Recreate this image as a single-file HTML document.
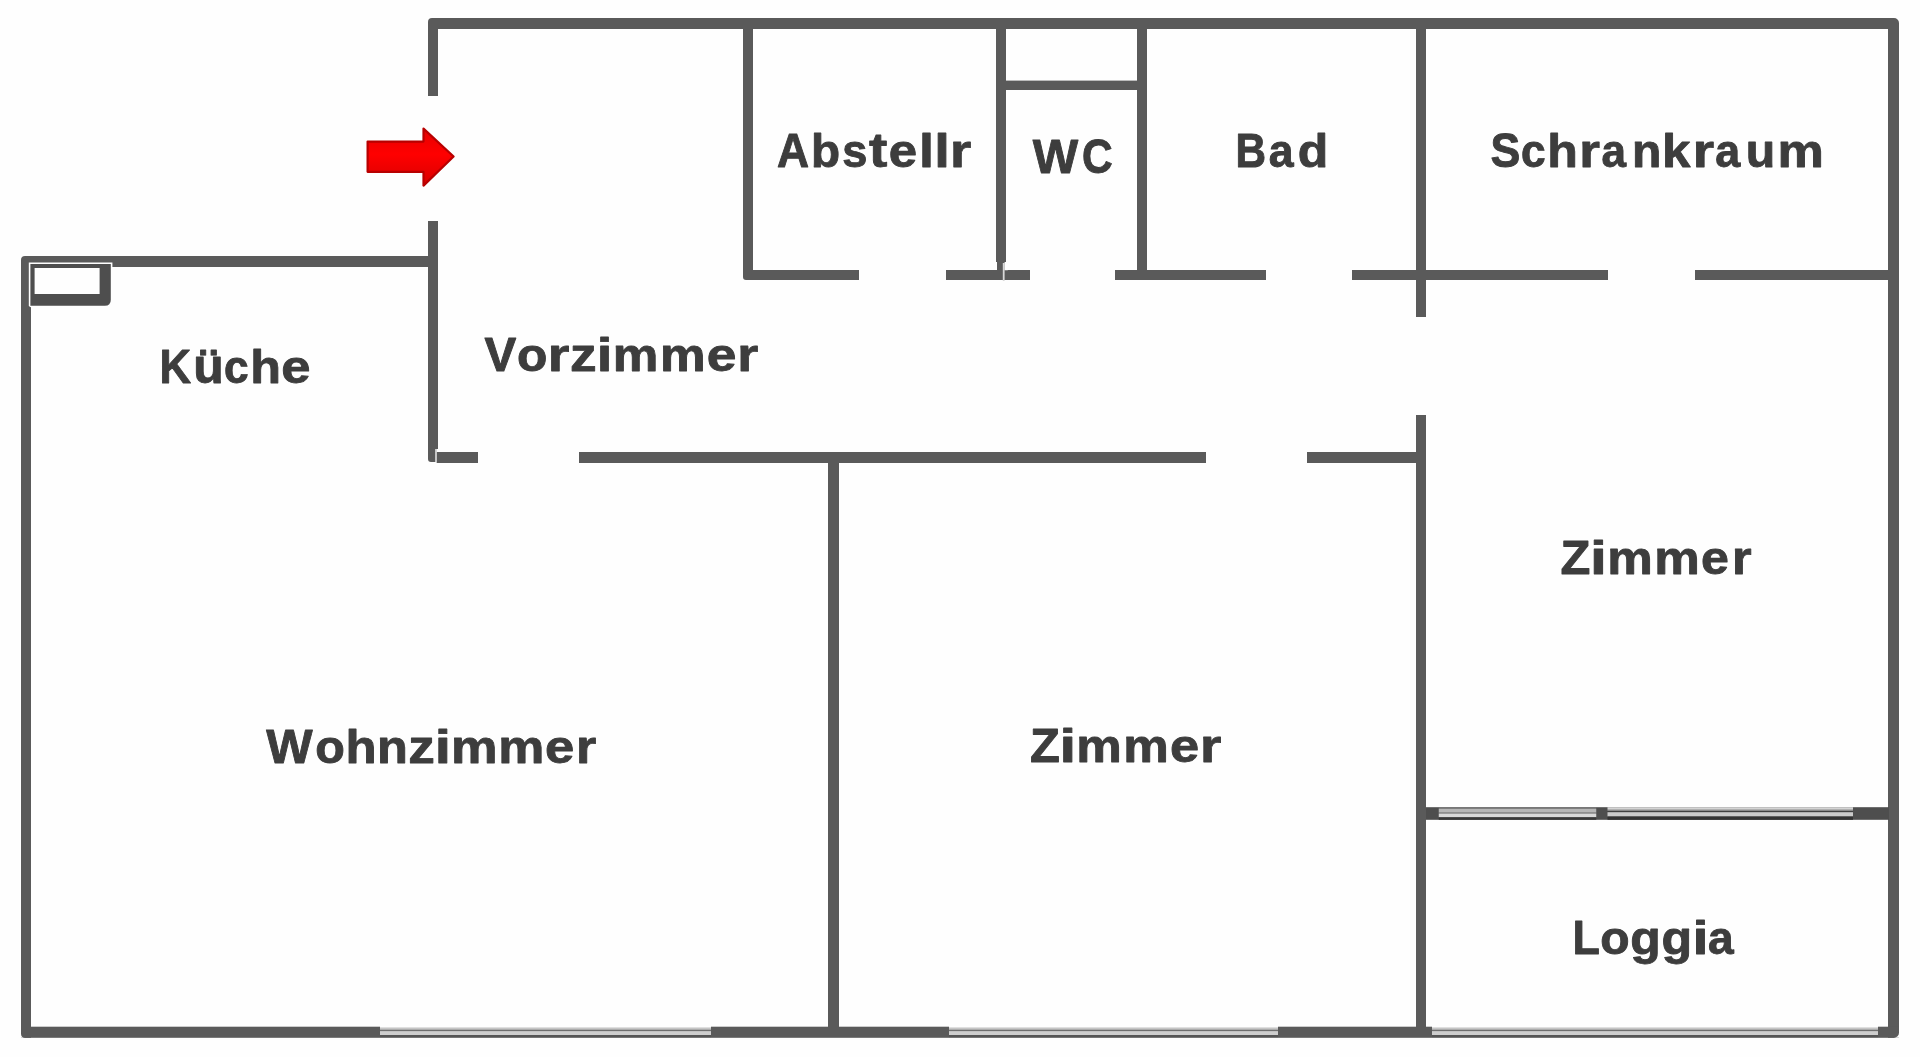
<!DOCTYPE html>
<html><head><meta charset="utf-8"><style>
html,body{margin:0;padding:0;background:#fefefe;width:1920px;height:1057px;overflow:hidden}
svg{display:block;will-change:transform}
.t text{font-family:"Liberation Sans",sans-serif;font-weight:bold;font-size:47.5px}
.t path,.t text{fill:#3d3d3d;stroke:#3d3d3d;stroke-width:0.9px;vector-effect:non-scaling-stroke;stroke-linejoin:round}
</style></head><body>
<svg width="1920" height="1057" viewBox="0 0 1920 1057">
<rect x="0" y="0" width="1920" height="1057" fill="#fefefe"/>
<g fill="#5a5a5a">
<rect x="428" y="18" width="1471" height="11"/>
<rect x="1888" y="18" width="11" height="1019.8"/>
<rect x="21" y="1026.7" width="1878" height="11.1"/>
<rect x="21" y="256" width="10" height="781.8"/>
<rect x="21" y="256" width="417" height="11"/>
<rect x="428" y="18" width="10" height="78"/>
<rect x="428" y="221" width="10" height="241"/>
<rect x="436" y="452" width="42" height="11"/>
<rect x="579" y="452" width="627" height="11"/>
<rect x="1307" y="452" width="119" height="11"/>
<rect x="828" y="452" width="11" height="585"/>
<rect x="1416" y="415" width="10" height="622"/>
<rect x="1416" y="18" width="10" height="299"/>
<rect x="743" y="18" width="10" height="262"/>
<rect x="743" y="270" width="116" height="10"/>
<rect x="946" y="270" width="84" height="10"/>
<rect x="1115" y="270" width="151" height="10"/>
<rect x="1352" y="270" width="256" height="10"/>
<rect x="1695" y="270" width="204" height="10"/>
<rect x="996" y="18" width="10" height="257"/>
<rect x="1137" y="18" width="10" height="262"/>
<rect x="1006" y="80.6" width="131" height="9.4"/>
</g>
<rect x="380" y="1026" width="331" height="13" fill="#fefefe"/><rect x="380" y="1027.2" width="331" height="1.2" fill="#d8d8d8"/><rect x="380" y="1028.4" width="331" height="1.6" fill="#ababab"/><rect x="380" y="1030" width="331" height="1.5" fill="#6e6e6e"/><rect x="380" y="1031.5" width="331" height="3.5" fill="#cecece"/><rect x="380" y="1035" width="331" height="2.8" fill="#555555"/><rect x="949" y="1026" width="329" height="13" fill="#fefefe"/><rect x="949" y="1027.2" width="329" height="1.2" fill="#d8d8d8"/><rect x="949" y="1028.4" width="329" height="1.6" fill="#ababab"/><rect x="949" y="1030" width="329" height="1.5" fill="#6e6e6e"/><rect x="949" y="1031.5" width="329" height="3.5" fill="#cecece"/><rect x="949" y="1035" width="329" height="2.8" fill="#555555"/><rect x="1432" y="1026" width="446" height="13" fill="#fefefe"/><rect x="1432" y="1027.2" width="446" height="1.2" fill="#d8d8d8"/><rect x="1432" y="1028.4" width="446" height="1.6" fill="#ababab"/><rect x="1432" y="1030" width="446" height="1.5" fill="#6e6e6e"/><rect x="1432" y="1031.5" width="446" height="3.5" fill="#cecece"/><rect x="1432" y="1035" width="446" height="2.8" fill="#555555"/>
<path d="M428 18 h4 a4 4 0 0 0 -4 4 Z" fill="#fefefe"/><path d="M1899 18 v5 a5 5 0 0 0 -5 -5 Z" fill="#fefefe"/><path d="M1899 1037.8 h-5 a5 5 0 0 0 5 -5 Z" fill="#fefefe"/><path d="M21 1037.8 v-4 a4 4 0 0 0 4 4 Z" fill="#fefefe"/><path d="M21 256 h4 a4 4 0 0 0 -4 4 Z" fill="#fefefe"/><path d="M743 280 v-3 a3 3 0 0 0 3 3 Z" fill="#fefefe"/><path d="M428 462 v-3 a3 3 0 0 0 3 3 Z" fill="#fefefe"/>
<rect x="1002.8" y="263" width="1.8" height="18" fill="#d8d8d8"/><rect x="995" y="262" width="2" height="8" fill="#fefefe"/><path d="M1004.6 262 H1006.4 V268 Q1006 270 1008 270.2 H1004.6 Z" fill="#fefefe"/><rect x="435.3" y="449" width="1.4" height="14" fill="#f4f4f4"/><rect x="436.7" y="449" width="1.5" height="3" fill="#fefefe"/>
<rect x="1426" y="807.2" width="463" height="12.6" fill="#4e4e4e"/><rect x="1438.75" y="807.2" width="157.5" height="1.6" fill="#7a7a7a"/><rect x="1438.75" y="808.8" width="157.5" height="3.7" fill="#b6b6b6"/><rect x="1438.75" y="812.5" width="157.5" height="1.2" fill="#999999"/><rect x="1438.75" y="813.7" width="157.5" height="3.6" fill="#d8d8d8"/><rect x="1438.75" y="817.3" width="157.5" height="2.5" fill="#383838"/><rect x="1607.5" y="807.2" width="245.5" height="1.8" fill="#d4d4d4"/><rect x="1607.5" y="809" width="245.5" height="1.8" fill="#b0b0b0"/><rect x="1607.5" y="810.8" width="245.5" height="1.4" fill="#404040"/><rect x="1607.5" y="812.2" width="245.5" height="4.3" fill="#cacaca"/><rect x="1607.5" y="816.5" width="245.5" height="3.3" fill="#333333"/>
<path d="M28.8 262.5 H112.4 V299.8 Q112.4 307.4 104.8 307.4 H32 Q30 307.4 28.8 306 Z" fill="#fefefe"/><path d="M30.4 264 H110.8 V299.8 Q110.8 305.8 104.8 305.8 H30.4 Z" fill="#4e4e4e"/><rect x="34.6" y="268" width="65" height="26" fill="#fefefe"/>
<defs><linearGradient id="ag" x1="0" y1="0" x2="0" y2="1"><stop offset="0" stop-color="#e60000"/><stop offset="0.45" stop-color="#ff0000"/><stop offset="1" stop-color="#d80000"/></linearGradient></defs><path d="M367.6 141.6 L423.5 141.6 L423.5 128.6 L453.6 156.5 L423.5 185.6 L423.5 171.8 L367.6 171.8 Z" fill="url(#ag)" stroke="#b80000" stroke-width="2.2" stroke-linejoin="round"/>
<g class="t">
<text transform="matrix(0.93512 0 0 1.0000 777.04 166.75)">A</text>
<text transform="matrix(1.00269 0 0 0.9850 810.91 166.75)">b</text>
<text transform="matrix(0.95179 0 0 0.9550 842.26 166.75)">s</text>
<text transform="matrix(1.15976 0 0 1.0000 868.88 166.75)">t</text>
<text transform="matrix(1.07245 0 0 0.9550 888.86 166.75)">e</text>
<text transform="matrix(1.13543 0 0 0.9850 918.88 166.75)">l</text>
<text transform="matrix(1.18146 0 0 0.9850 934.33 166.75)">l</text>
<text transform="matrix(1.14793 0 0 0.9550 950.06 166.75)">r</text>
<text transform="matrix(1.01475 0 0 1.0000 1032.70 173.05)">W</text>
<text transform="matrix(0.89516 0 0 1.0000 1082.01 173.05)">C</text>
<text transform="matrix(0.89062 0 0 1.0000 1235.62 166.95)">B</text>
<text transform="matrix(0.93970 0 0 0.9550 1268.64 166.95)">a</text>
<text transform="matrix(1.05283 0 0 0.9850 1297.70 166.95)">d</text>
<text transform="matrix(0.93997 0 0 1.0000 1490.41 166.85)">S</text>
<text transform="matrix(0.93223 0 0 0.9550 1520.92 166.85)">c</text>
<text transform="matrix(1.05482 0 0 0.9850 1547.25 166.85)">h</text>
<text transform="matrix(1.12060 0 0 0.9550 1579.14 166.85)">r</text>
<text transform="matrix(0.92786 0 0 0.9550 1601.46 166.85)">a</text>
<text transform="matrix(1.01141 0 0 0.9550 1631.98 166.85)">n</text>
<text transform="matrix(1.07573 0 0 0.9850 1662.08 166.85)">k</text>
<text transform="matrix(1.15477 0 0 0.9550 1692.73 166.85)">r</text>
<text transform="matrix(0.94365 0 0 0.9550 1715.34 166.85)">a</text>
<text transform="matrix(1.01577 0 0 0.9550 1745.86 166.85)">u</text>
<text transform="matrix(1.09795 0 0 0.9550 1777.51 166.85)">m</text>
<text transform="matrix(0.92065 0 0 1.0000 159.62 382.95)">K</text>
<text transform="matrix(1.05065 0 0 1.0000 193.16 382.95)">ü</text>
<text transform="matrix(0.93223 0 0 0.9550 224.12 382.95)">c</text>
<text transform="matrix(1.05922 0 0 0.9850 250.24 382.95)">h</text>
<text transform="matrix(1.10732 0 0 0.9550 281.30 382.95)">e</text>
<text transform="matrix(1.00217 0 0 1.0000 484.42 371.25)">V</text>
<text transform="matrix(1.04727 0 0 0.9550 517.11 371.25)">o</text>
<text transform="matrix(1.16843 0 0 0.9550 547.79 371.25)">r</text>
<text transform="matrix(1.12012 0 0 0.9550 570.07 371.25)">z</text>
<text transform="matrix(1.18146 0 0 0.9850 596.83 371.25)">i</text>
<text transform="matrix(1.08135 0 0 0.9550 612.86 371.25)">m</text>
<text transform="matrix(1.08135 0 0 0.9550 659.96 371.25)">m</text>
<text transform="matrix(1.12476 0 0 0.9550 706.66 371.25)">e</text>
<text transform="matrix(1.13427 0 0 0.9550 737.30 371.25)">r</text>
<text transform="matrix(1.03487 0 0 1.0000 266.20 762.85)">W</text>
<text transform="matrix(1.01960 0 0 0.9550 315.26 762.85)">o</text>
<text transform="matrix(1.07240 0 0 0.9850 345.49 762.85)">h</text>
<text transform="matrix(1.06373 0 0 0.9550 377.12 762.85)">n</text>
<text transform="matrix(1.11763 0 0 0.9550 408.32 762.85)">z</text>
<text transform="matrix(1.22750 0 0 0.9850 434.78 762.85)">i</text>
<text transform="matrix(1.10348 0 0 0.9550 450.89 762.85)">m</text>
<text transform="matrix(1.09241 0 0 0.9550 498.23 762.85)">m</text>
<text transform="matrix(1.10732 0 0 0.9550 545.10 762.85)">e</text>
<text transform="matrix(1.09327 0 0 0.9550 576.03 762.85)">r</text>
<text transform="matrix(1.02929 0 0 1.0000 1029.89 762.25)">Z</text>
<text transform="matrix(1.25818 0 0 0.9850 1059.48 762.25)">i</text>
<text transform="matrix(1.07859 0 0 0.9550 1076.17 762.25)">m</text>
<text transform="matrix(1.07859 0 0 0.9550 1123.17 762.25)">m</text>
<text transform="matrix(1.10296 0 0 0.9550 1169.90 762.25)">e</text>
<text transform="matrix(1.15477 0 0 0.9550 1200.03 762.25)">r</text>
<text transform="matrix(1.02929 0 0 1.0000 1560.49 574.35)">Z</text>
<text transform="matrix(1.28120 0 0 0.9850 1589.95 574.35)">i</text>
<text transform="matrix(1.07859 0 0 0.9550 1607.27 574.35)">m</text>
<text transform="matrix(1.07859 0 0 0.9550 1654.27 574.35)">m</text>
<text transform="matrix(1.05501 0 0 0.9550 1701.09 574.35)">e</text>
<text transform="matrix(1.05910 0 0 0.9550 1731.93 574.35)">r</text>
<text transform="matrix(0.94354 0 0 1.0000 1572.55 954.25)">L</text>
<text transform="matrix(1.01170 0 0 0.9550 1600.27 954.25)">o</text>
<text transform="matrix(1.05069 0 0 0.9550 1630.30 954.25)">g</text>
<text transform="matrix(1.05487 0 0 0.9550 1661.49 954.25)">g</text>
<text transform="matrix(1.21215 0 0 0.9850 1692.43 954.25)">i</text>
<text transform="matrix(0.97129 0 0 0.9550 1708.10 954.25)">a</text>
</g>
</svg>
</body></html>
